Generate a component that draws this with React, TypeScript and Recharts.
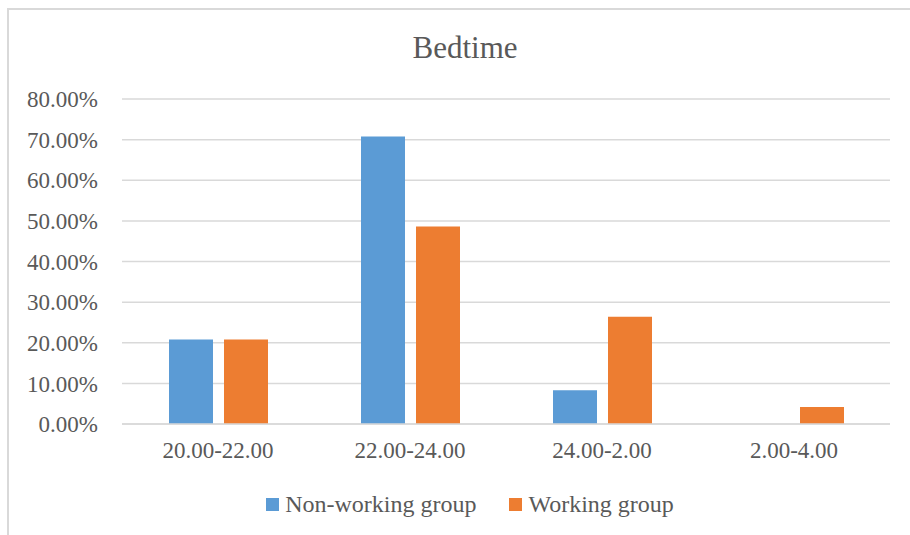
import React from 'react';
import { BarChart, Bar, XAxis, YAxis, CartesianGrid, Legend } from 'recharts';

const categories = ['20.00-22.00', '22.00-24.00', '24.00-2.00', '2.00-4.00'];
const nonWorking = [20.8, 70.8, 8.3, 0];
const working = [20.8, 48.6, 26.4, 4.2];
const yTicks = [0, 10, 20, 30, 40, 50, 60, 70, 80];

const data = categories.map((c, i) => ({ name: c, nonWorking: nonWorking[i], working: working[i] }));

const FONT = '"Liberation Serif", "Times New Roman", serif';
const TEXT = '#595959';
const GRID = '#d9d9d9';
const BLUE = '#5b9bd5';
const ORANGE = '#ed7d31';

const renderLegend = (props: any) => {
  const { payload } = props;
  return (
    <div style={{ display: 'flex', justifyContent: 'center', alignItems: 'center', paddingLeft: 30, fontFamily: FONT, fontSize: 24, color: TEXT }}>
      {payload.map((entry: any, i: number) => (
        <div key={entry.value} style={{ display: 'flex', alignItems: 'center', marginLeft: i ? 33 : 0 }}>
          <span style={{ width: 13, height: 13, background: entry.color, display: 'inline-block', marginRight: 6 }} />
          <span>{entry.value}</span>
        </div>
      ))}
    </div>
  );
};

const App: React.FC = () => {
  return (
    <div style={{ position: 'absolute', left: 0, top: 0, width: 910, height: 535, background: '#fff', overflow: 'hidden' }}>
      <div style={{ position: 'absolute', left: 7, top: 8, width: 920, height: 540, borderLeft: `2px solid ${GRID}`, borderTop: `2px solid ${GRID}` }} />
      <div style={{ position: 'absolute', left: 0, top: 30, width: 930, textAlign: 'center', fontFamily: FONT, fontSize: 31, color: TEXT }}>
        Bedtime
      </div>
      <BarChart
        width={910}
        height={535}
        data={data}
        margin={{ top: 99, right: 20, left: 0, bottom: 0 }}
        barCategoryGap={47}
        barGap={11}
        style={{ position: 'absolute', left: 0, top: 0 }}
      >
        <CartesianGrid vertical={false} stroke={GRID} strokeWidth={1.5} />
        <XAxis
          dataKey="name"
          axisLine={{ stroke: GRID, strokeWidth: 1.5 }}
          tickLine={false}
          tickSize={0}
          tickMargin={18}
          height={81}
          tick={{ fontFamily: FONT, fontSize: 23, fill: TEXT }}
        />
        <YAxis
          domain={[0, 80]}
          ticks={yTicks}
          interval={0}
          axisLine={false}
          tickLine={false}
          tickSize={0}
          tickMargin={24}
          width={122}
          tickFormatter={(v: number) => v.toFixed(2) + '%'}
          tick={{ fontFamily: FONT, fontSize: 23, fill: TEXT }}
        />
        <Legend
          content={renderLegend}
          verticalAlign="bottom"
          wrapperStyle={{ position: 'absolute', left: 0, top: 491, width: 910, height: 30 }}
        />
        <Bar dataKey="nonWorking" name="Non-working group" fill={BLUE} isAnimationActive={false} />
        <Bar dataKey="working" name="Working group" fill={ORANGE} isAnimationActive={false} />
      </BarChart>
    </div>
  );
};

export default App;
